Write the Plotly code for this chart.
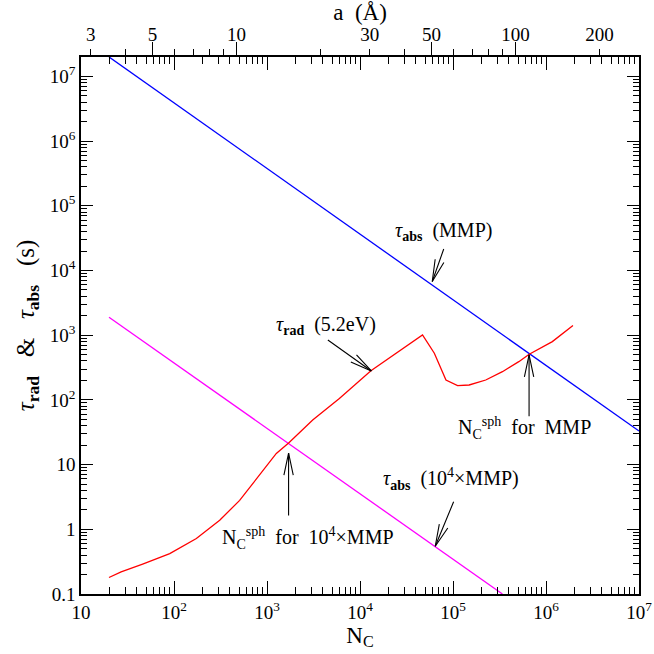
import math
import plotly.graph_objects as go

# ---------------- data ----------------
n_abs_mmp = [20, 1.0e7]
tau_abs_mmp = [2.0e7, 33]

n_abs_1e4 = [20, 3.4e5]
tau_abs_1e4 = [1.9e3, 0.1]

n_rad = [20, 27, 46, 90, 174, 310, 508, 832, 1260, 1720, 3100, 6000, 1.31e4,
         4.7e4, 6.3e4, 8.4e4, 1.12e5, 1.49e5, 2.25e5, 3.4e5, 5.1e5, 6.6e5,
         1.17e6, 1.95e6]
tau_rad = [0.18, 0.22, 0.29, 0.42, 0.72, 1.38, 2.8, 6.9, 14.9, 21.8, 49, 105, 283,
           1010, 526, 203, 166, 170, 203, 273, 390, 508, 796, 1410]

x_tickvals = [10, 1e2, 1e3, 1e4, 1e5, 1e6, 1e7]
x_ticktext = ["10", "10<sup>2</sup>", "10<sup>3</sup>", "10<sup>4</sup>",
              "10<sup>5</sup>", "10<sup>6</sup>", "10<sup>7</sup>"]
y_tickvals = [0.1, 1, 10, 1e2, 1e3, 1e4, 1e5, 1e6, 1e7]
y_ticktext = ["0.1", "1", "10", "10<sup>2</sup>", "10<sup>3</sup>", "10<sup>4</sup>",
              "10<sup>5</sup>", "10<sup>6</sup>", "10<sup>7</sup>"]
a_tickvals = [3, 5, 10, 30, 50, 100, 200]
a_ticktext = ["3", "5", "10", "30", "50", "100", "200"]
a_minor = [4, 6, 7, 8, 9, 20, 40, 60, 70, 80, 90]
a_long = [5, 10, 50, 100]

K_A = 1.286  # a(Å) = 1.286 * N_C^(1/3)

FONT = "Liberation Serif"
TF = 19   # tick font size
AF = 20   # annotation font size

fig = go.Figure()
fig.add_trace(go.Scatter(x=n_abs_mmp, y=tau_abs_mmp, mode="lines",
                         line=dict(color="#0000ff", width=1.3), showlegend=False))
fig.add_trace(go.Scatter(x=n_abs_1e4, y=tau_abs_1e4, mode="lines",
                         line=dict(color="#ff00ff", width=1.3), showlegend=False))
fig.add_trace(go.Scatter(x=n_rad, y=tau_rad, mode="lines",
                         line=dict(color="#ff0000", width=1.3), showlegend=False))
fig.add_trace(go.Scatter(x=[], y=[], xaxis="x2", yaxis="y", showlegend=False))
fig.add_trace(go.Scatter(x=[], y=[], xaxis="x3", yaxis="y", showlegend=False))

x_minor = [m * 10 ** e for e in range(1, 7) for m in range(2, 10)]
y_minor = [m * 10 ** e for e in range(-1, 8) for m in range(2, 10)]

lk = math.log10(K_A)
a_range = [lk + 1 / 3, lk + 7 / 3]

fig.update_layout(
    width=654, height=654,
    margin=dict(l=81, r=15, t=57, b=60, autoexpand=False),
    plot_bgcolor="white", paper_bgcolor="white",
    font=dict(family=FONT, size=TF, color="black"),
    xaxis=dict(type="log", range=[1, 7], tickmode="array", tickvals=x_tickvals,
               ticktext=x_ticktext, ticks="inside", ticklen=13, tickwidth=1.2,
               tickcolor="black", showline=True, linecolor="black", linewidth=1.5,
               mirror="ticks", showgrid=False, zeroline=False, automargin=False,
               minor=dict(tickmode="array", tickvals=x_minor, ticks="inside",
                          ticklen=7, tickwidth=1.2, tickcolor="black", showgrid=False),
               title=dict(text="N<sub>C</sub>", font=dict(size=23), standoff=2),
               tickfont=dict(size=TF)),
    yaxis=dict(type="log", range=[-1, 7.3], tickmode="array", tickvals=y_tickvals,
               ticktext=y_ticktext, ticks="inside", ticklen=12, tickwidth=1.2,
               tickcolor="black", showline=True, linecolor="black", linewidth=1.5,
               mirror="ticks", showgrid=False, zeroline=False, automargin=False,
               minor=dict(tickmode="array", tickvals=y_minor, ticks="inside",
                          ticklen=6, tickwidth=1.2, tickcolor="black", showgrid=False),
               title=dict(text="<i>τ</i><sub><b>rad</b></sub>&nbsp;&nbsp; &amp; &nbsp;&nbsp;<i>τ</i><sub><b>abs</b></sub>&nbsp;&nbsp; (s)",
                          font=dict(size=25), standoff=8),
               tickfont=dict(size=TF)),
    xaxis2=dict(type="log", range=a_range, overlaying="x", side="top", anchor="y",
                tickmode="array", tickvals=a_tickvals, ticktext=a_ticktext,
                ticks="outside", ticklen=7, tickwidth=1.2, tickcolor="black",
                showline=False, showgrid=False, zeroline=False, automargin=False,
                minor=dict(tickmode="array", tickvals=a_minor, ticks="outside",
                           ticklen=7, tickwidth=1.2, tickcolor="black", showgrid=False),
                title=dict(text="a&nbsp; (Å)", font=dict(size=23), standoff=2),
                tickfont=dict(size=TF)),
    xaxis3=dict(type="log", range=a_range, overlaying="x", side="top", anchor="y",
                tickmode="array", tickvals=a_long, ticks="outside", ticklen=14,
                tickwidth=1.2, tickcolor="black", showticklabels=False,
                showline=False, showgrid=False, zeroline=False, automargin=False),
)

SP = "&nbsp;&nbsp;"
texts = [
    ("<i>τ</i><sub><b>abs</b></sub>" + SP + "(MMP)", 4.895, 4.60),
    ("<i>τ</i><sub><b>rad</b></sub>" + SP + "(5.2eV)", 3.629, 3.15),
    ("N<sub>C</sub><sup>sph</sup>" + SP + "for" + SP + "MMP", 5.764, 1.56),
    ("N<sub>C</sub><sup>sph</sup>" + SP + "for" + SP + "10<sup>4</sup>×MMP", 3.441, -0.14),
    ("<i>τ</i><sub><b>abs</b></sub>" + SP + "(10<sup>4</sup>×MMP)", 4.98, 0.78),
]
for t, x, y in texts:
    fig.add_annotation(x=x, y=y, xref="x", yref="y", text=t, showarrow=False,
                       xanchor="center", yanchor="middle", font=dict(size=AF))

# arrows: tip (log coords) and tail offset in pixels
arrows = [
    (4.777, 3.83, 12, -34),
    (4.122, 2.447, -45, -32),
    (5.818, 2.696, 0, 63),
    (3.232, 1.178, 0, 64),
    (4.809, -0.262, 19, -46),
]
ARM = 24
ANG = math.radians(12)
for x, y, ax, ay in arrows:
    fig.add_annotation(x=x, y=y, xref="x", yref="y", text="", showarrow=True,
                       ax=ax, ay=ay, arrowhead=0, arrowwidth=1.1,
                       arrowcolor="black", standoff=0)
    d = math.hypot(ax, ay)
    ux, uy = ax / d, ay / d
    for s in (1, -1):
        c, sn = math.cos(s * ANG), math.sin(s * ANG)
        rx, ry = ux * c - uy * sn, ux * sn + uy * c
        fig.add_annotation(x=x, y=y, xref="x", yref="y", text="", showarrow=True,
                           ax=rx * ARM, ay=ry * ARM, arrowhead=0, arrowwidth=1.1,
                           arrowcolor="black", standoff=0)

fig.write_html("out.html", config={"displayModeBar": False})

# remove the default page margin so the figure sits at the window's corner
with open("out.html", "r", encoding="utf-8") as f:
    html = f.read()
html = html.replace("<body>", '<body style="margin:0;padding:0;">', 1)
with open("out.html", "w", encoding="utf-8") as f:
    f.write(html)
